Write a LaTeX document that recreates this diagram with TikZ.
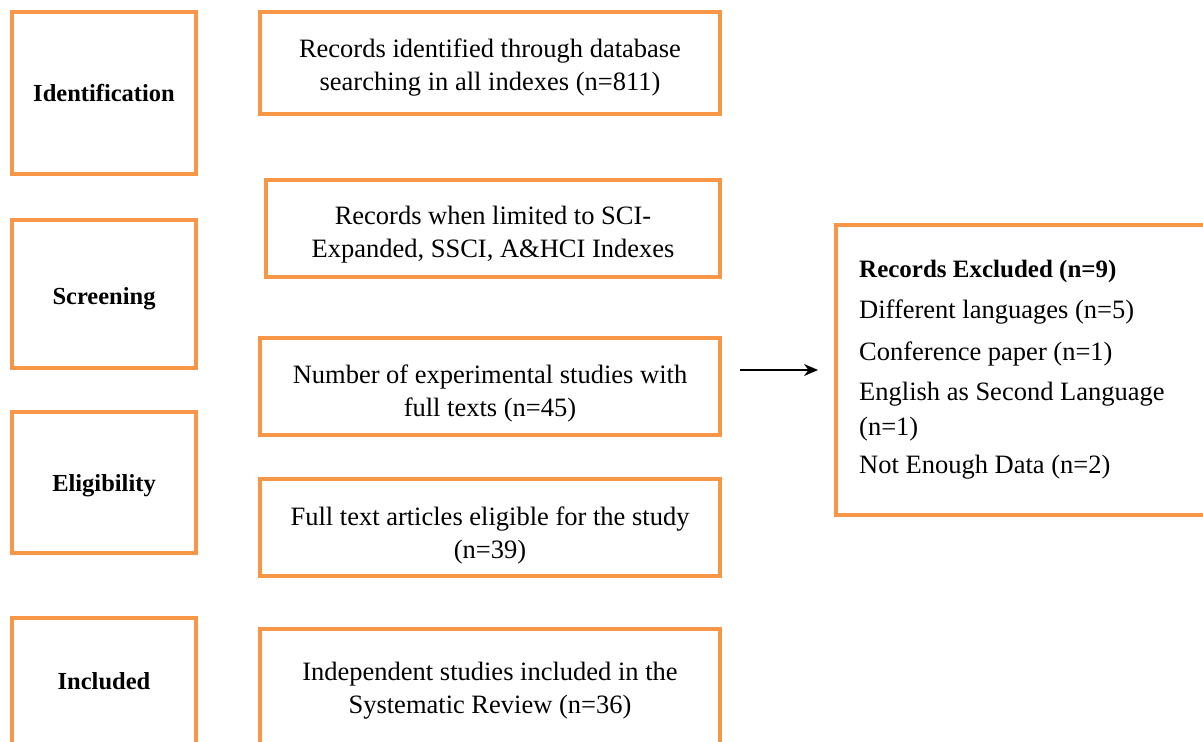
\documentclass[tikz,border=0pt]{standalone}
\usepackage{fontspec}
\setmainfont{Liberation Serif}
\usetikzlibrary{arrows.meta}
\definecolor{boxorange}{RGB}{247,150,70}
\newcommand{\lowtxt}[2]{\raisebox{0pt}[\dimexpr\height+#1\relax][\dimexpr\depth-#1\relax]{\begin{tabular}{@{}c@{}}#2\end{tabular}}}
\tikzset{
  box/.style={draw=boxorange, line width=4pt, rectangle, fill=white, inner sep=0pt, outer sep=0pt,
    align=center, font=\fontsize{26.5}{33}\selectfont},
  stagebox/.style={box, minimum width=184pt, font=\fontsize{24.5}{30}\selectfont\bfseries},
  mainbox/.style={box, minimum width=460pt},
  txt/.style={anchor=base west, inner sep=0pt, font=\fontsize{26.5}{32}\selectfont},
  arr/.style={line width=1.6pt, -{Stealth[length=14pt,width=12pt,inset=4.5pt]}}
}
\begin{document}
\begin{tikzpicture}[x=1pt,y=-1pt]
\useasboundingbox (0,0) rectangle (1203,742);
\clip (0,0) rectangle (1203,742);
% stage boxes
\node[stagebox, minimum height=162pt] (ident) at (104,93) {\lowtxt{2pt}{Identification}};
\node[stagebox, minimum height=148pt] (screen) at (104,294) {\lowtxt{4pt}{Screening}};
\node[stagebox, minimum height=141pt] (elig) at (104,482.5) {\lowtxt{3pt}{Eligibility}};
\node[stagebox, minimum height=130pt] (incl) at (104,683) {\lowtxt{0pt}{Included}};
% main boxes
\node[mainbox, minimum height=102pt] (rec) at (490,63) {\lowtxt{4pt}{Records identified through database\\searching in all indexes (n=811)}};
\node[mainbox, minimum width=454pt, minimum height=97pt] (sci) at (493,228.5) {\lowtxt{6pt}{Records when limited to SCI-\\Expanded, SSCI, A\&HCI Indexes}};
\node[mainbox, minimum height=97pt] (num) at (490,386) {\lowtxt{7pt}{Number of experimental studies with\\full texts (n=45)}};
\node[mainbox, minimum height=97pt] (full) at (490,527) {\lowtxt{8pt}{Full text articles eligible for the study\\(n=39)}};
\node[mainbox, minimum height=120pt] (indep) at (490,689) {\lowtxt{1pt}{Independent studies included in the\\Systematic Review (n=36)}};
% excluded box
\node[box, minimum width=390pt, minimum height=290pt] (excl) at (1031,370) {};
\node[txt, font=\fontsize{25}{30}\selectfont\bfseries] (e1) at (859,277) {Records Excluded (n=9)};
\node[txt] (e2) at (859,318) {Different languages (n=5)};
\node[txt] (e3) at (859,360) {Conference paper (n=1)};
\node[txt] (e4) at (859,400) {English as Second Language};
\node[txt] (e5) at (859,435) {(n=1)};
\node[txt] (e6) at (859,473) {Not Enough Data (n=2)};
% arrow
\draw[arr, shorten <=20pt, shorten >=18pt] (num.east |- excl.west) -- (excl.west);
\end{tikzpicture}
\end{document}
